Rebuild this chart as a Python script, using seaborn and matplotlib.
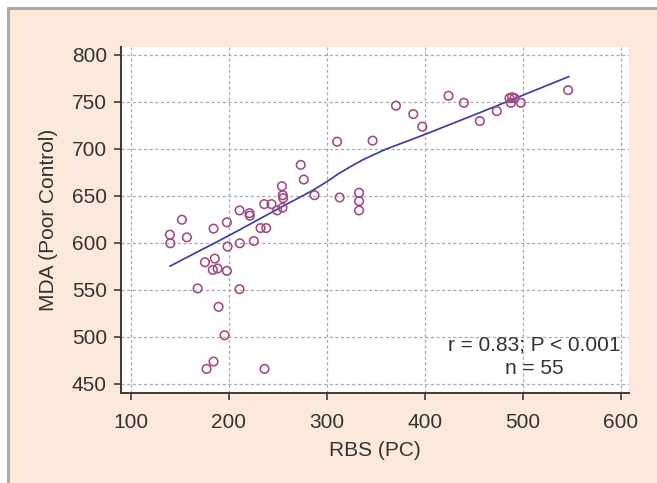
import matplotlib
matplotlib.use("Agg")
import matplotlib.pyplot as plt
from matplotlib.patches import Rectangle
from matplotlib.lines import Line2D
import seaborn as sns
import pandas as pd

# ---- data ----
rbs = [140.0, 140.4, 152.2, 157.3, 184.5, 198.1, 211.0, 221.2, 221.5, 236.2,
       243.6, 249.4, 254.8, 211.3, 225.6, 198.8, 232.4, 238.2, 175.7, 185.8,
       183.8, 188.6, 198.1, 168.2, 211.0, 189.6, 195.7, 184.5, 177.4, 236.5,
       254.2, 255.1, 255.5, 273.4, 276.5, 287.4, 310.5, 313.1, 332.9, 332.9,
       332.9, 346.7, 370.5, 388.2, 397.4, 424.1, 439.8, 456.1, 473.4, 486.3,
       491.4, 487.7, 497.9, 546.1, 489.0]
mda = [608.6, 599.4, 624.5, 605.7, 615.0, 621.7, 634.4, 631.5, 628.8, 641.1,
       641.1, 634.4, 637.3, 599.4, 601.8, 595.9, 615.6, 615.6, 579.2, 583.1,
       571.0, 572.5, 570.0, 551.3, 550.5, 531.7, 501.4, 473.4, 465.6, 465.6,
       660.2, 650.6, 647.5, 682.9, 667.3, 650.6, 707.6, 648.2, 653.2, 644.3,
       634.4, 708.7, 745.9, 737.0, 723.6, 756.5, 749.0, 729.6, 740.2, 754.0,
       754.0, 749.0, 749.0, 762.5, 755.0]

fit_x = [140, 200, 252, 286, 300, 312, 325, 337, 360, 398, 456, 547]
fit_y = [575, 607.5, 637, 656, 665, 673.5, 681.5, 688.5, 699.5, 714.5, 738.5, 777]

x_ticks = [100, 200, 300, 400, 500, 600]
y_ticks = [450, 500, 550, 600, 650, 700, 750, 800]

x_label = "RBS (PC)"
y_label = "MDA (Poor Control)"
stat_line1 = "r = 0.83; P < 0.001"
stat_line2 = "n = 55"

# ---- styling ----
sns.set_theme(style="white")
plt.rcParams["font.family"] = ["Liberation Sans", "DejaVu Sans"]

PEACH = "#fde8dc"
BORDER = "#a9a9a9"
PT_COLOR = "#a04a84"
LINE_COLOR = "#3c40a4"
AX_COLOR = "#3a3a3a"
TXT = "#333333"
GRID = "#ababab"

W, H = 657, 483
fig = plt.figure(figsize=(W / 100, H / 100), dpi=100, facecolor="white")

# peach panel with grey frame on left/top (drawn beneath the axes)
fig.patches.append(Rectangle((9 / W, 0), 1 - 9 / W, 1 - 9 / H, transform=fig.transFigure,
                             facecolor=PEACH, edgecolor="none", zorder=-10))
fig.lines.append(Line2D([8 / W, 8 / W], [0, 1 - 8 / H], transform=fig.transFigure,
                        color=BORDER, lw=2.2, zorder=-9))
fig.lines.append(Line2D([8 / W, 1], [1 - 8 / H, 1 - 8 / H], transform=fig.transFigure,
                        color=BORDER, lw=2.2, zorder=-9))

left, right = 120.7 / W, 628.5 / W
bottom, top = 1 - 393.3 / H, 1 - 46.5 / H
ax = fig.add_axes([left, bottom, right - left, top - bottom], zorder=1)
ax.set_facecolor("white")

df = pd.DataFrame({"RBS": rbs, "MDA": mda})
fit = pd.DataFrame({"x": fit_x, "y": fit_y})

ax.set_axisbelow(True)
sns.lineplot(data=fit, x="x", y="y", ax=ax, color=LINE_COLOR, lw=1.25, zorder=3)
sns.scatterplot(data=df, x="RBS", y="MDA", ax=ax, s=38, marker="o",
                facecolor="none", edgecolor=PT_COLOR, linewidth=1.15, zorder=4)
for c in ax.collections:
    c.set_facecolor("none")
    c.set_edgecolor(PT_COLOR)

ax.set_xlim(89.8, 607.7)
ax.set_ylim(439.6, 809)
ax.set_xticks(x_ticks)
ax.set_yticks(y_ticks)
ax.grid(True, color=GRID, linestyle=(0, (2.5, 2)), linewidth=0.9)

for s in ["top", "right"]:
    ax.spines[s].set_visible(False)
for s in ["left", "bottom"]:
    ax.spines[s].set_color(AX_COLOR)
    ax.spines[s].set_linewidth(1.4)

ax.tick_params(axis="both", which="major", direction="out", length=5, width=1.2,
               color=AX_COLOR, labelsize=15, labelcolor=TXT, left=True, bottom=True)
ax.tick_params(axis="x", pad=9)
ax.tick_params(axis="y", pad=5)

ax.set_xlabel(x_label, fontsize=15, color=TXT, labelpad=7)
ax.set_ylabel(y_label, fontsize=15, color=TXT, labelpad=10)

ax.text(511.8, 491, stat_line1, ha="center", va="center", fontsize=15, color=TXT)
ax.text(511.8, 465.5, stat_line2, ha="center", va="center", fontsize=15, color=TXT)

fig.savefig("out.png", dpi=100, facecolor="white")
